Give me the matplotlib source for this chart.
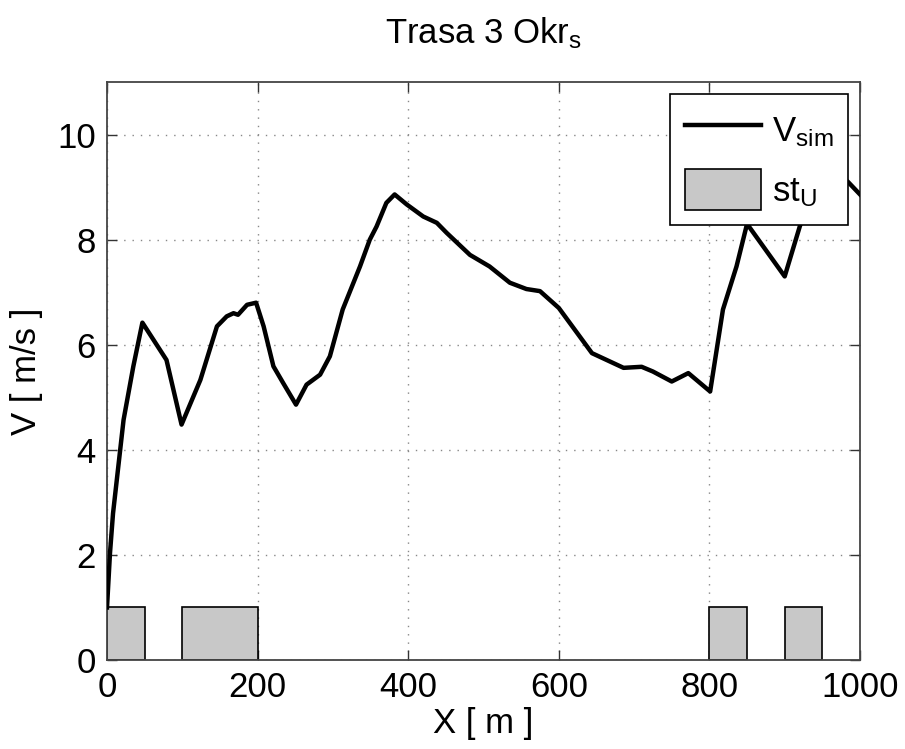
import matplotlib
matplotlib.use("Agg")
import matplotlib.pyplot as plt

plt.rcParams['font.family'] = ['Liberation Sans', 'DejaVu Sans']
plt.rcParams['mathtext.fontset'] = 'custom'
plt.rcParams['mathtext.rm'] = 'Liberation Sans'
plt.rcParams['mathtext.it'] = 'Liberation Sans'

x_pos = [0, 4, 8, 15, 22, 35, 47, 79, 99, 124, 146, 159, 168, 174, 186, 198, 208, 221, 234, 251,
         265, 283, 296, 313, 336, 349, 358, 371, 382, 398, 420, 438, 451, 482, 508, 535, 557, 575,
         600, 644, 686, 710, 725, 750, 772, 801, 818, 836, 850, 900, 920, 950, 984, 1000]
v_sim = [1.0, 2.04, 2.79, 3.68, 4.57, 5.59, 6.42, 5.71, 4.48, 5.33, 6.35, 6.54, 6.6, 6.57, 6.76, 6.8, 6.35, 5.59, 5.27, 4.86,
         5.24, 5.43, 5.78, 6.67, 7.49, 8.0, 8.25, 8.7, 8.86, 8.67, 8.44, 8.32, 8.13, 7.71, 7.49, 7.18, 7.06, 7.02,
         6.7, 5.84, 5.56, 5.58, 5.49, 5.3, 5.46, 5.11, 6.67, 7.49, 8.3, 7.3, 8.25, 9.5, 9.1, 8.86]

st_start = [0, 100, 800, 900]
st_end = [50, 200, 850, 950]
st_height = [1, 1, 1, 1]

xticks = [0, 200, 400, 600, 800, 1000]
yticks = [0, 2, 4, 6, 8, 10]

fig = plt.figure(figsize=(9.05, 7.49), dpi=100)
ax = fig.add_axes([107/905, 1-660/749, (860-107)/905, (660-82)/749])

widths = [e - s for s, e in zip(st_start, st_end)]
bars = ax.bar(st_start, st_height, width=widths, align='edge', color='#c8c8c8',
              edgecolor='black', linewidth=1.2, label=r'$\mathrm{st_U}$', zorder=2)
line, = ax.plot(x_pos, v_sim, color='black', linewidth=3.2, label=r'$\mathrm{V_{sim}}$', zorder=3)

ax.set_xlim(0, 1000)
ax.set_ylim(0, 11)
ax.set_xticks(xticks)
ax.set_yticks(yticks)
ax.tick_params(direction='in', length=7, width=1, top=True, right=True,
               labelsize=25, pad=8, colors='#333333', labelcolor='black')
ax.grid(True, linestyle=(0, (1, 5)), color='#888888', linewidth=1.0)
ax.set_axisbelow(True)
for sp in ax.spines.values():
    sp.set_linewidth(1.3)
    sp.set_color('#444444')

ax.set_xlabel('X [ m ]', fontsize=25, labelpad=2)
ax.set_ylabel('V [ m/s ]', fontsize=25, labelpad=10)
ax.set_title(r'Trasa 3 Okr$_\mathrm{s}$', fontsize=25, pad=28)

leg = ax.legend(handles=[line, bars], loc='upper right', fontsize=25, frameon=True,
                fancybox=False, edgecolor='black', framealpha=1,
                handlelength=2.2, handleheight=1.45, borderpad=0.42, labelspacing=0.55,
                handletextpad=0.3, borderaxespad=0.35)
leg.get_frame().set_linewidth(1.2)

fig.savefig('out.png', dpi=100)
